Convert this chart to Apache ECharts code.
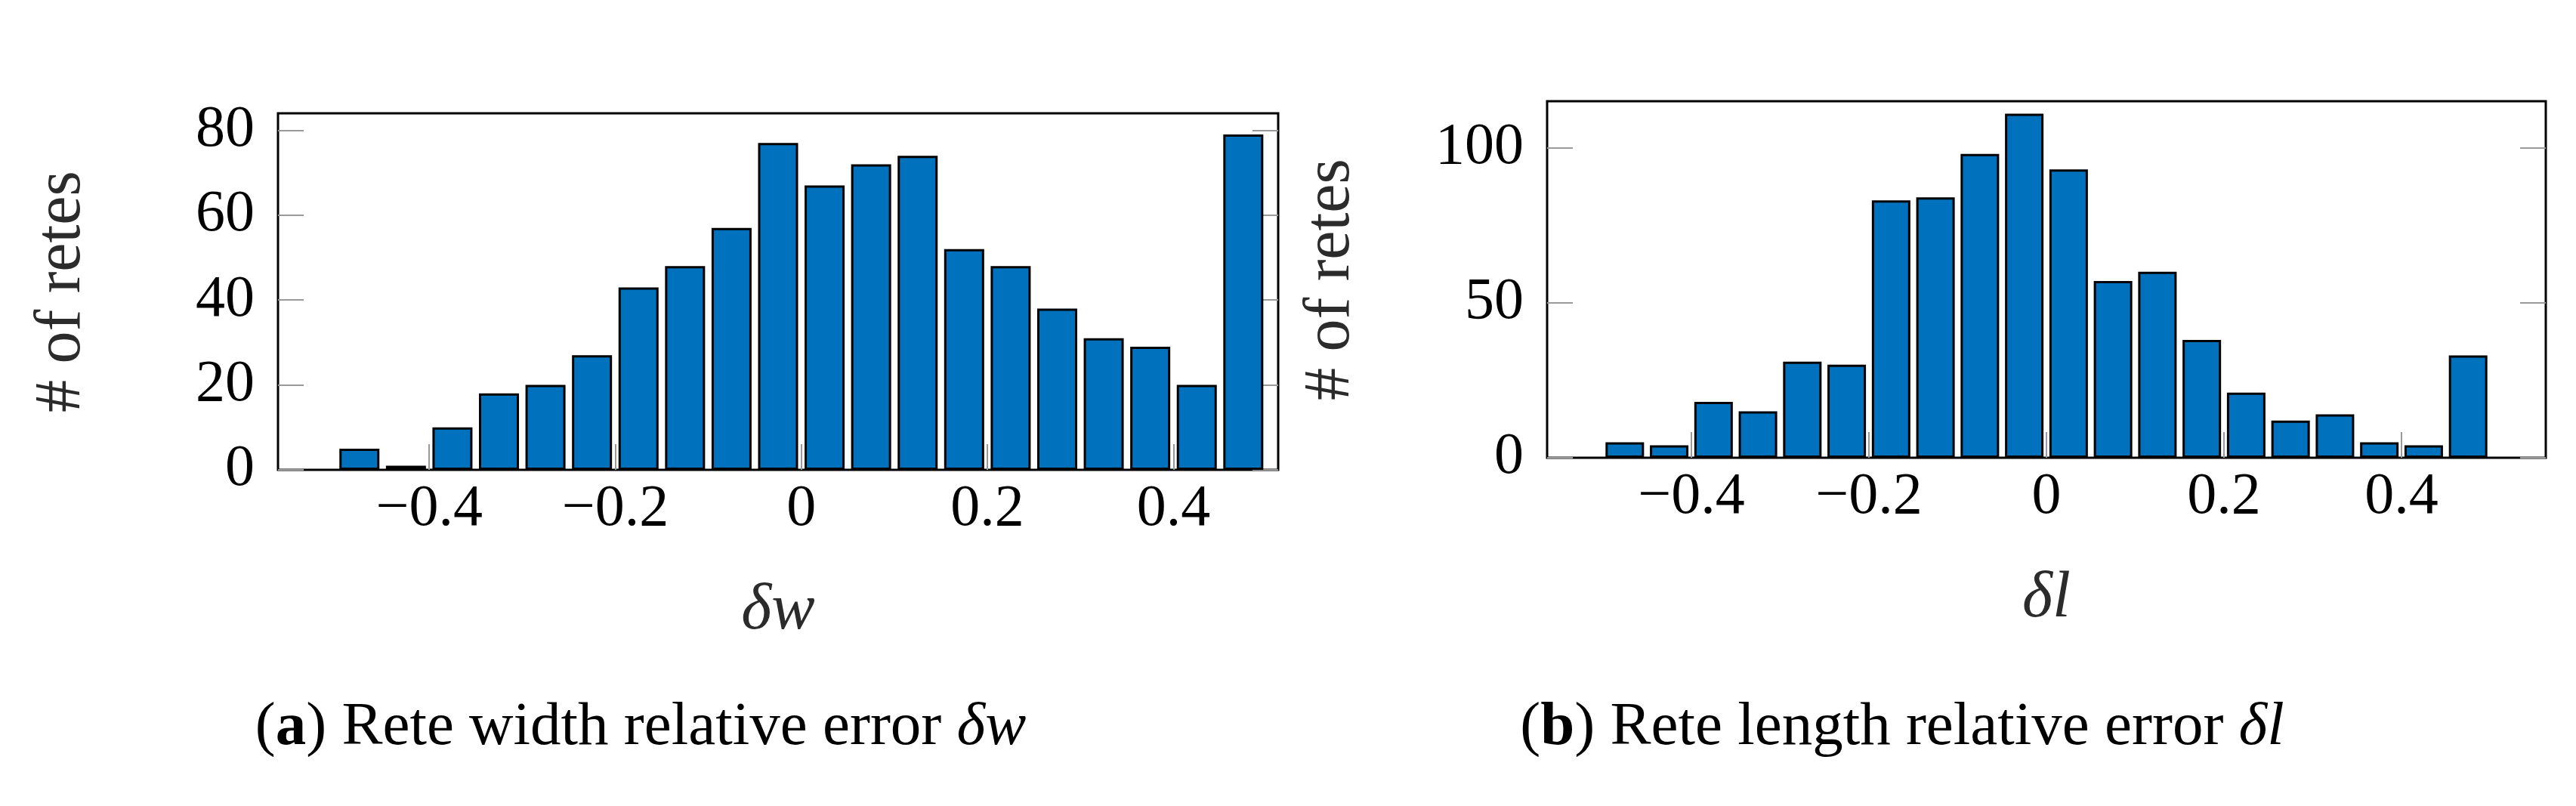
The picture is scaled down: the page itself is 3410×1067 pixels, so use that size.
<!DOCTYPE html>
<html>
<head>
<meta charset="utf-8">
<script src="https://cdn.jsdelivr.net/npm/echarts@6/dist/echarts.min.js"></script>
<style>
  html, body { margin: 0; background: #fff; }
  #chart { width: 3410px; height: 1067px; }
</style>
</head>
<body>
<div id="chart"></div>
<script>
// histogram bins (centres of 0.05-wide bins from -0.5 to 0.5)
const binCenters = [-0.475, -0.425, -0.375, -0.325, -0.275, -0.225, -0.175, -0.125, -0.075, -0.025,
                    0.025, 0.075, 0.125, 0.175, 0.225, 0.275, 0.325, 0.375, 0.425, 0.475];
const widthCounts  = [5, 1, 10, 18, 20, 27, 43, 48, 57, 77, 67, 72, 74, 52, 48, 38, 31, 29, 20, 79];
const lengthCounts = [5, 4, 18, 15, 31, 30, 83, 84, 98, 111, 93, 57, 60, 38, 21, 12, 14, 5, 4, 33];
const xTicks = [-0.4, -0.2, 0, 0.2, 0.4];
const widthYTicks = [0, 20, 40, 60, 80];
const lengthYTicks = [0, 50, 100];

const FONT = 'Liberation Serif, DejaVu Serif, serif';
const BLUE = '#0072BD';
const TICK_FS = 78;
const NAME_FS = 86;
const CAP_FS = 81;

const fmt = (v) => (v < 0 ? '\u2212' + Math.abs(v) : String(v));

function xAxis(gridIndex, min, max, name) {
  return {
    type: 'value', gridIndex, min, max,
    name, nameLocation: 'middle', nameGap: 144,
    nameTextStyle: { fontFamily: FONT, fontSize: NAME_FS, fontStyle: 'italic', color: '#2b2b2b' },
    axisLine: { show: false, onZero: false },
    axisTick: { show: true, inside: true, length: 34, customValues: xTicks,
      lineStyle: { color: '#999', width: 2 } },
    axisLabel: { customValues: xTicks, formatter: fmt, margin: 14,
      fontFamily: FONT, fontSize: TICK_FS, color: '#000' },
    splitLine: { show: false },
  };
}

function yAxis(gridIndex, max, ticks, right) {
  return {
    type: 'value', gridIndex, min: 0, max,
    position: right ? 'right' : 'left',
    name: right ? '' : '# of retes', nameLocation: 'middle', nameGap: 243, nameRotate: 90,
    nameTextStyle: { fontFamily: FONT, fontSize: NAME_FS, color: '#2b2b2b' },
    axisLine: { show: false, onZero: false },
    axisTick: { show: true, inside: true, length: 34, customValues: ticks,
      lineStyle: { color: '#999', width: 2 } },
    axisLabel: { show: !right, customValues: ticks, margin: 31,
      fontFamily: FONT, fontSize: TICK_FS, color: '#000' },
    splitLine: { show: false },
  };
}

function bars(idx, counts, barWidth) {
  return {
    type: 'bar', xAxisIndex: idx, yAxisIndex: idx * 2,
    data: binCenters.map((x, i) => [x, counts[i]]),
    barWidth,
    itemStyle: { color: BLUE, borderColor: '#000', borderWidth: 3 },
  };
}

function caption(x, letter, body, sym) {
  return {
    type: 'text', x, y: 964,
    style: {
      text: '{n|(}{b|' + letter + '}{n|) ' + body + ' }{i|' + sym + '}',
      align: 'center', verticalAlign: 'middle',
      rich: {
        n: { fontFamily: FONT, fontSize: CAP_FS, fill: '#000' },
        b: { fontFamily: FONT, fontSize: CAP_FS, fontWeight: 'bold', fill: '#000' },
        i: { fontFamily: FONT, fontSize: CAP_FS, fontStyle: 'italic', fill: '#000' },
      },
    },
  };
}

const chart = echarts.init(document.getElementById('chart'), null, { renderer: 'canvas' });
chart.setOption({
  animation: false,
  backgroundColor: '#fff',
  grid: [
    { left: 368, top: 150, width: 1324, height: 472, show: true, borderColor: '#000', borderWidth: 3 },
    { left: 2048, top: 134, width: 1322, height: 472, show: true, borderColor: '#000', borderWidth: 3 },
  ],
  xAxis: [
    xAxis(0, -0.5625, 0.5125, 'δw'),
    xAxis(1, -0.5625, 0.5625, 'δl'),
  ],
  yAxis: [
    yAxis(0, 84, widthYTicks, false),
    yAxis(0, 84, widthYTicks, true),
    yAxis(1, 115, lengthYTicks, false),
    yAxis(1, 115, lengthYTicks, true),
  ],
  series: [
    bars(0, widthCounts, 53),
    bars(1, lengthCounts, 51),
  ],
  graphic: [
    caption(848, 'a', 'Rete width relative error', 'δw'),
    caption(2518, 'b', 'Rete length relative error', 'δl'),
  ],
});
</script>
</body>
</html>
